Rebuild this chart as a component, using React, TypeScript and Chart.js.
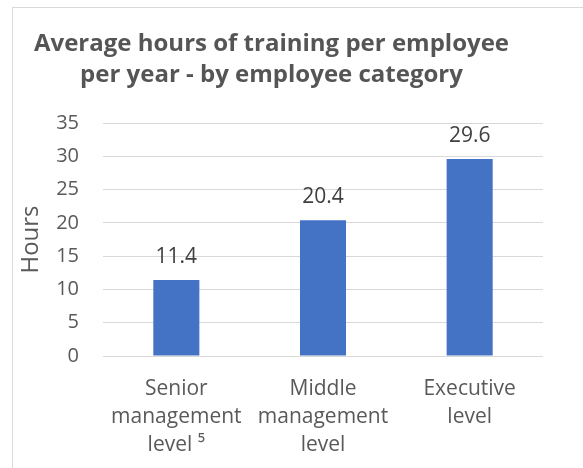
import React, { useEffect, useRef } from "react";
import { Chart, registerables } from "chart.js";

Chart.register(...registerables);

const categories: string[][] = [
  ["Senior", "management", "level \u2075"],
  ["Middle", "management", "level"],
  ["Executive", "level"],
];
const hours: number[] = [11.4, 20.4, 29.6];
const titleLines: string[] = [
  "Average hours of training per employee",
  "per year - by employee category",
];
const yAxisTitle = "Hours";
const yMin = 0;
const yMax = 35;
const yStep = 5;

const FONT = "'Open Sans', sans-serif";
const TEXT = "#595959";

const dataLabels = {
  id: "dataLabels",
  afterDatasetsDraw(chart: any) {
    const ctx = chart.ctx;
    const meta = chart.getDatasetMeta(0);
    ctx.save();
    ctx.font = `21px ${FONT}`;
    ctx.fillStyle = "#404040";
    ctx.textAlign = "center";
    ctx.textBaseline = "alphabetic";
    meta.data.forEach((bar: any, i: number) => {
      const v = chart.data.datasets[0].data[i] as number;
      ctx.fillText(v.toFixed(1), bar.x, bar.y - 17);
    });
    ctx.restore();
  },
};

export default function App() {
  const ref = useRef<HTMLCanvasElement>(null);
  useEffect(() => {
    if (!ref.current) return;
    const chart = new Chart(ref.current, {
      type: "bar",
      data: {
        labels: categories,
        datasets: [
          {
            data: hours,
            backgroundColor: "#4472c4",
            borderWidth: 0,
            categoryPercentage: 1,
            barPercentage: 0.314,
          },
        ],
      },
      options: {
        responsive: false,
        animation: false,
        devicePixelRatio: 1,
        layout: { padding: { left: 0, right: 40, top: 0, bottom: 0 } },
        plugins: {
          legend: { display: false },
          tooltip: { enabled: false },
          title: {
            display: true,
            text: titleLines,
            color: "#555555",
            font: { family: FONT, size: 24, weight: "bold", lineHeight: 31 / 24 },
            padding: { top: 29, bottom: 32 },
          },
        },
        scales: {
          x: {
            grid: { display: false, drawTicks: false },
            border: { display: false },
            ticks: {
              color: TEXT,
              font: { family: FONT, size: 21, lineHeight: 28 / 21 },
              padding: 19,
              maxRotation: 0,
              autoSkip: false,
            },
            afterFit(scale: any) {
              scale.height = 112;
            },
          },
          y: {
            min: yMin,
            max: yMax,
            grid: { color: "#d9d9d9", lineWidth: 1, drawTicks: false },
            border: { display: false },
            ticks: {
              stepSize: yStep,
              color: TEXT,
              font: { family: FONT, size: 20 },
              padding: 24,
            },
            title: {
              display: true,
              text: yAxisTitle,
              color: TEXT,
              font: { family: FONT, size: 24, lineHeight: 1.2 },
              padding: { top: 17, bottom: 0 },
            },
            afterFit(scale: any) {
              scale.width = 103;
            },
          },
        },
      },
      plugins: [dataLabels],
    });
    return () => chart.destroy();
  }, []);

  return (
    <div style={{ position: "absolute", left: 0, top: 0, width: 583, height: 468, background: "#fff", overflow: "hidden" }}>
      <div
        style={{
          position: "absolute",
          left: 12,
          top: 7,
          width: 600,
          height: 500,
          borderLeft: "1px solid #d9d9d9",
          borderTop: "1px solid #d9d9d9",
        }}
      />
      <canvas ref={ref} width={583} height={468} style={{ position: "absolute", left: 0, top: 0 }} />
    </div>
  );
}
